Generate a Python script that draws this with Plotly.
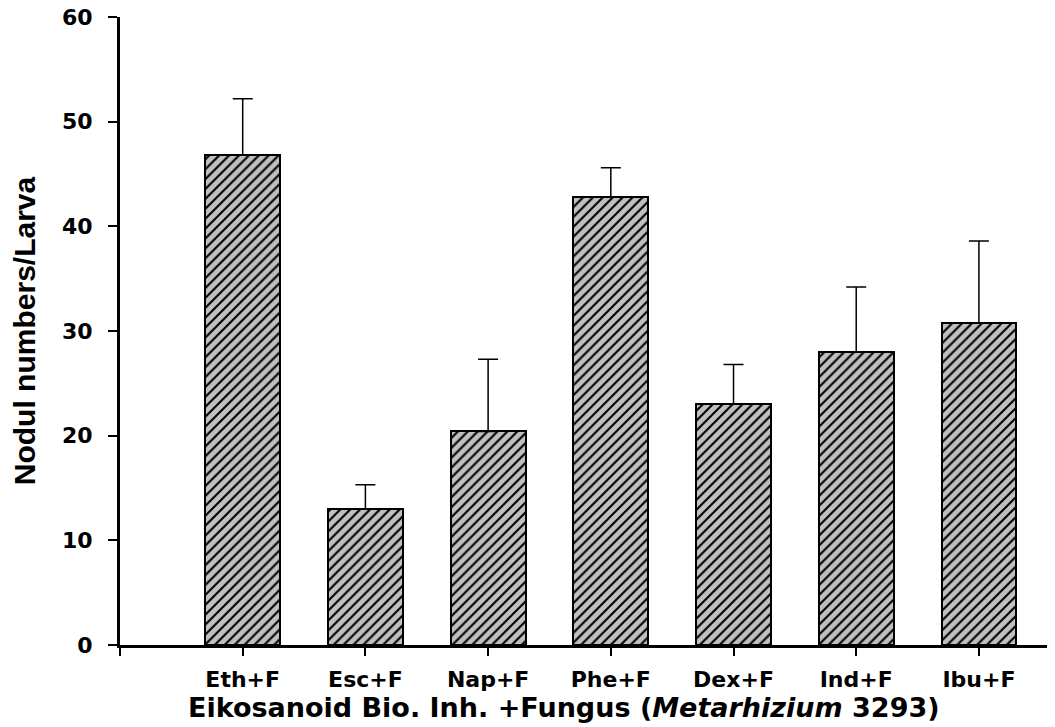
import plotly.graph_objects as go

categories = ["Eth+F", "Esc+F", "Nap+F", "Phe+F", "Dex+F", "Ind+F", "Ibu+F"]
means = [46.8, 13.0, 20.4, 42.8, 23.0, 28.0, 30.8]
errors = [5.4, 2.3, 6.9, 2.8, 3.8, 6.2, 7.8]
y_ticks = [0, 10, 20, 30, 40, 50, 60]
x_title = "<b>Eikosanoid Bio. Inh. +Fungus (<i>Metarhizium</i> 3293)</b>"
y_title = "<b>Nodul numbers/Larva</b>"

positions = list(range(1, len(categories) + 1))

FONT = "DejaVu Sans, Liberation Sans, Arial, sans-serif"
FONT_ARIAL = "Liberation Sans, Arial, sans-serif"

fig = go.Figure()
fig.add_trace(go.Bar(
    x=positions,
    y=means,
    width=0.61,
    marker=dict(
        color="#c0c0c0",
        line=dict(color="black", width=2),
        pattern=dict(shape="/", bgcolor="#c0c0c0", fgcolor="black",
                     size=7, solidity=0.3, fillmode="replace"),
    ),
    error_y=dict(type="data", array=errors, arrayminus=[0] * len(errors),
                 symmetric=False, color="black", thickness=1.5, width=10),
    showlegend=False,
))

fig.update_layout(
    width=1047, height=719,
    margin=dict(l=112, r=0, t=9, b=82),
    plot_bgcolor="white", paper_bgcolor="white",
    font=dict(family=FONT, color="black"),
    xaxis=dict(
        range=[0, 7.62],
        tickmode="array",
        tickvals=[0] + positions,
        ticktext=[""] + categories,
        ticks="outside", ticklen=8, tickwidth=1.5, tickcolor="black",
        showline=True, linecolor="black", linewidth=3,
        showgrid=False, zeroline=False,
        tickfont=dict(family=FONT, size=22, weight="bold"),
        ticklabelstandoff=5,
        automargin=False,
    ),
    yaxis=dict(
        range=[0, 60],
        tickmode="array",
        tickvals=y_ticks,
        ticks="outside", ticklen=9, tickwidth=1.5, tickcolor="black",
        showline=True, linecolor="black", linewidth=3,
        showgrid=False, zeroline=False,
        tickfont=dict(family=FONT, size=22, weight="bold"),
        ticklabelstandoff=11,
        ticklabeloverflow="allow",
        title=dict(text=y_title, font=dict(family=FONT_ARIAL, size=30), standoff=21),
        automargin=False,
    ),
    annotations=[dict(
        text=x_title, xref="paper", yref="paper", x=0.475, y=0,
        xanchor="center", yanchor="middle", yshift=-62.5, showarrow=False,
        font=dict(family=FONT, size=27, color="black"),
    )],
    bargap=0,
)

fig.write_html("out.html")
